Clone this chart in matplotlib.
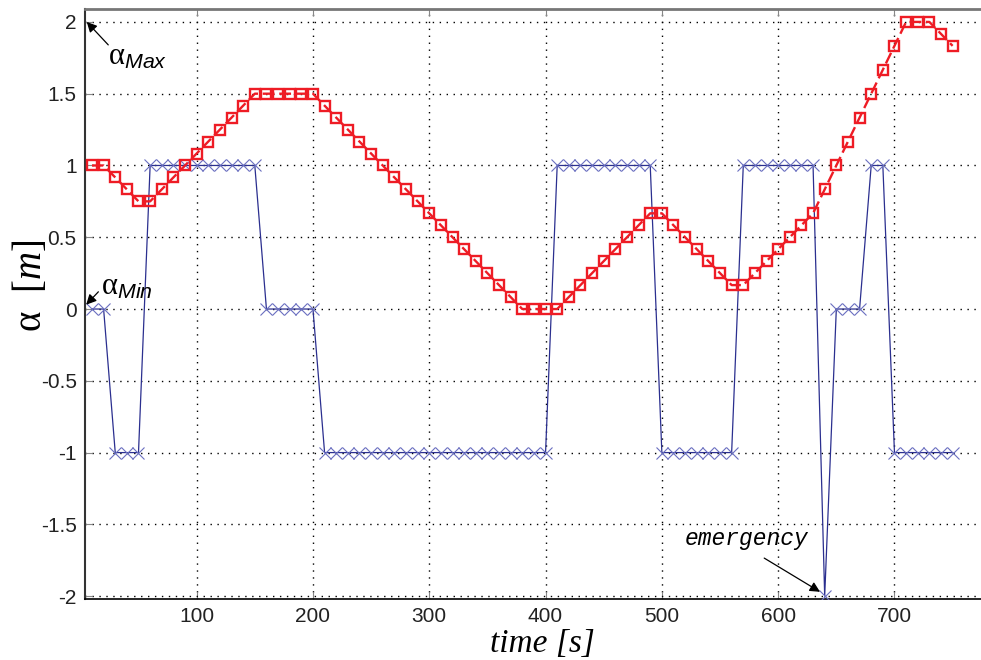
import numpy as np
import matplotlib
matplotlib.use("Agg")
import matplotlib.pyplot as plt

# sample times (s)
t = np.arange(10, 760, 10)

# blue: control action
u = [0, 0, -1, -1, -1,
     1, 1, 1, 1, 1, 1, 1, 1, 1, 1,
     0, 0, 0, 0, 0,
     -1, -1, -1, -1, -1, -1, -1, -1, -1, -1,
     -1, -1, -1, -1, -1, -1, -1, -1, -1, -1,
     1, 1, 1, 1, 1, 1, 1, 1, 1,
     -1, -1, -1, -1, -1, -1, -1,
     1, 1, 1, 1, 1, 1, 1,
     -2,
     0, 0, 0,
     1, 1,
     -1, -1, -1, -1, -1, -1]

# red: alpha in twelfths of a metre
alpha12 = [12, 12, 11, 10, 9, 9, 10, 11, 12, 13, 14, 15, 16, 17, 18,
           18, 18, 18, 18, 18,
           17, 16, 15, 14, 13, 12, 11, 10, 9, 8, 7, 6, 5, 4, 3, 2, 1, 0,
           0, 0, 0,
           1, 2, 3, 4, 5, 6, 7, 8, 8,
           7, 6, 5, 4, 3, 2, 2,
           3, 4, 5, 6, 7, 8,
           10, 12, 14, 16, 18, 20, 22, 24, 24, 24, 23, 22]
alpha = np.array(alpha12) / 12.0

xticks = [100, 200, 300, 400, 500, 600, 700]
yticks = [-2, -1.5, -1, -0.5, 0, 0.5, 1, 1.5, 2]
ytick_labels = ["-2", "-1.5", "-1", "-0.5", "0", "0.5", "1", "1.5", "2"]

plt.rcParams["mathtext.fontset"] = "custom"
plt.rcParams["mathtext.rm"] = "Liberation Serif"
plt.rcParams["mathtext.it"] = "Liberation Serif:italic"
plt.rcParams["mathtext.sf"] = "Liberation Sans:italic"

fig = plt.figure(figsize=(9.81, 6.6), dpi=100)
ax = fig.add_axes([85 / 981, 1 - 599 / 660, 906 / 981, 590 / 660])

ax.plot(t, u, color="#2b2f8f", lw=0.9, marker="x", ms=8.5,
        mec="#6a6fc0", mew=0.8, zorder=3)
ax.plot(t, alpha, color="#ee1c25", lw=1.7, ls=(0, (5, 2)), marker="s", ms=7.3,
        mfc="none", mec="#ee1c25", mew=1.7, zorder=4)

ax.set_xlim(4, 783)
ax.set_ylim(-2.02, 2.09)
ax.set_xticks(xticks)
ax.set_yticks(yticks)
ax.set_yticklabels(ytick_labels)
ax.grid(True, color="black", ls=(0, (1, 4)), lw=1.0)
ax.tick_params(direction="in", length=5, color="#888888",
               labelsize=15, top=True, pad=6)
for lab in ax.get_xticklabels() + ax.get_yticklabels():
    lab.set_family("Liberation Sans")
    lab.set_color("#222222")
ax.spines["right"].set_visible(False)
ax.spines["top"].set_color("#777777")
ax.spines["top"].set_linewidth(2)
ax.spines["left"].set_color("#333333")
ax.spines["left"].set_linewidth(1.5)
ax.spines["bottom"].set_linewidth(1.2)

ax.set_xlabel("time [s]", family="Liberation Serif", style="italic",
              fontsize=24)
ax.xaxis.set_label_coords(0.505, -0.05)
ax.set_ylabel(r"$\mathrm{\alpha}\ \ [m]$", fontsize=28)
ax.yaxis.set_label_coords(-0.04, 0.53)

arrow = dict(arrowstyle="-|>", color="black", lw=0.9, shrinkA=0, shrinkB=0,
             mutation_scale=15)

ax.text(24, 1.76, r"$\mathrm{\alpha}_{\mathsf{Max}}$", fontsize=22,
        va="center", ha="left")
ax.annotate("", xy=(5.5, 2.0), xytext=(24, 1.84), arrowprops=arrow)

ax.text(18, 0.16, r"$\mathrm{\alpha}_{\mathsf{Min}}$", fontsize=22,
        va="center", ha="left")
ax.annotate("", xy=(5, 0.03), xytext=(15.5, 0.12), arrowprops=arrow)

ax.text(520, -1.6, "emergency", family="Liberation Mono", style="italic",
        fontsize=16.5, va="center", ha="left")
ax.annotate("", xy=(636, -1.97), xytext=(588, -1.735), arrowprops=arrow)

fig.savefig("out.png", dpi=100)
